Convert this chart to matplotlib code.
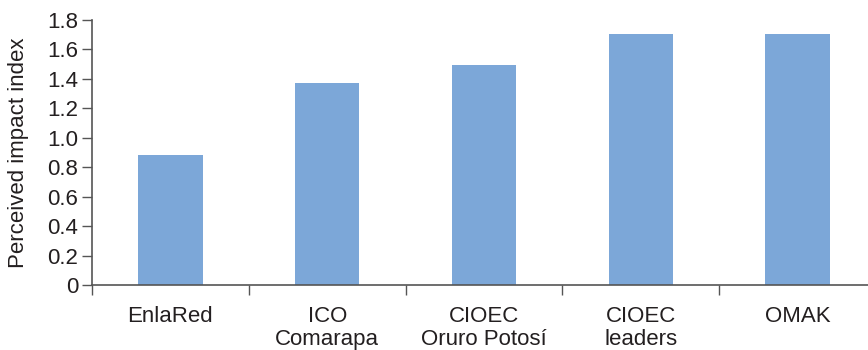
import matplotlib
matplotlib.use("Agg")
import matplotlib.pyplot as plt

categories = ["EnlaRed", "ICO\nComarapa", "CIOEC\nOruro Potosí", "CIOEC\nleaders", "OMAK"]
values = [0.88, 1.37, 1.49, 1.70, 1.70]
yticks = [0, 0.2, 0.4, 0.6, 0.8, 1.0, 1.2, 1.4, 1.6, 1.8]
ytick_labels = ["0", "0.2", "0.4", "0.6", "0.8", "1.0", "1.2", "1.4", "1.6", "1.8"]

plt.rcParams["font.family"] = ["Liberation Sans", "DejaVu Sans"]
text_color = "#231f20"
axis_color = "#555555"
fs = 16

W, H = 868, 350
fig = plt.figure(figsize=(W / 100, H / 100), dpi=100)
left, right = 92, 876
bottom, top = 285, 19.7
ax = fig.add_axes([left / W, (H - bottom) / H, (right - left) / W, (bottom - top) / H])

x = range(len(categories))
ax.bar(x, values, width=0.41, color="#7ca7d8", zorder=2)

ax.set_xlim(-0.5, len(categories) - 0.5)
ax.set_ylim(0, 1.8)
ax.set_yticks(yticks)
ax.set_yticklabels(ytick_labels)

ax.set_xticks([i + 0.5 for i in range(len(categories) - 1)] + [-0.5])
ax.set_xticklabels([])
ax.set_xticks(list(x), minor=True)
ax.set_xticklabels(categories, minor=True, linespacing=1.15)
ax.tick_params(axis="x", which="minor", length=0, pad=15, labelsize=fs, labelcolor=text_color)
ax.tick_params(axis="x", which="major", length=7, width=1, color=axis_color, direction="out")
ax.tick_params(axis="y", length=7, width=1, color=axis_color, labelsize=fs, labelcolor=text_color, pad=3)

for s in ("top", "right"):
    ax.spines[s].set_visible(False)
for s in ("left", "bottom"):
    ax.spines[s].set_color(axis_color)
    ax.spines[s].set_linewidth(1.2)

ax.set_ylabel("Perceived impact index", fontsize=fs, color=text_color, labelpad=13)

fig.savefig("out.png", dpi=100)
